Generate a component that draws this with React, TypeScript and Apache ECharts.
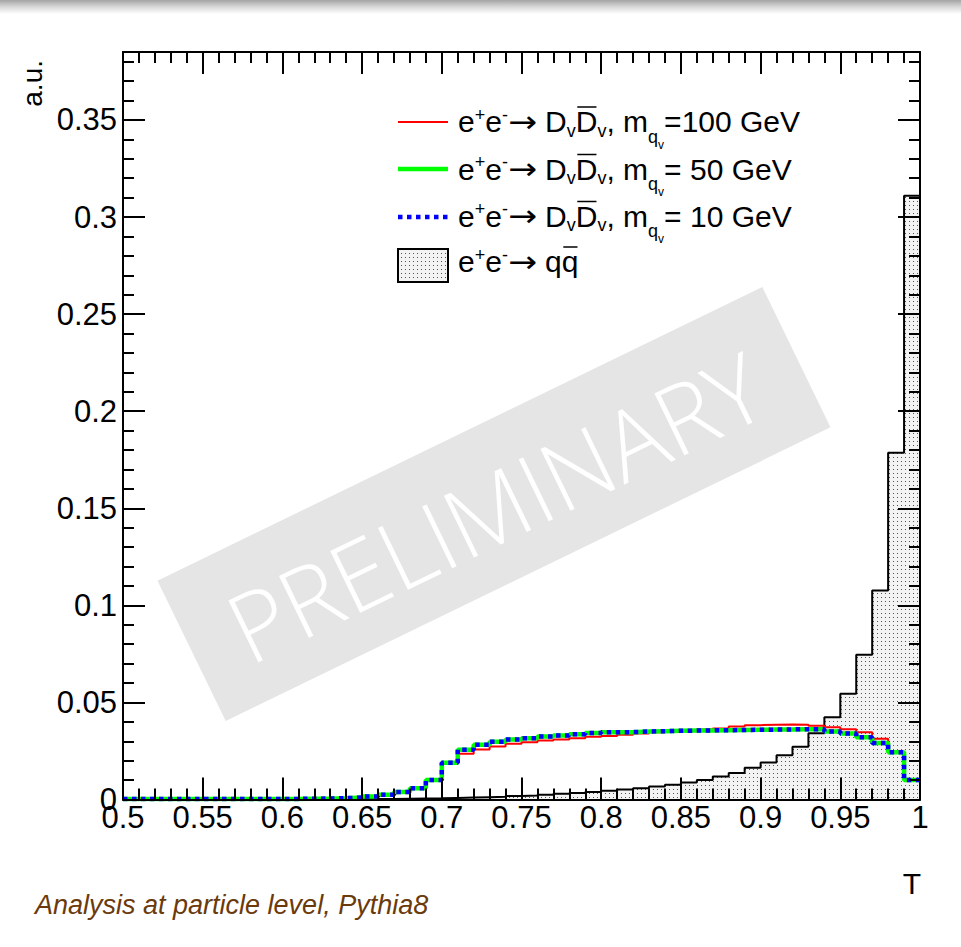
import React, { useEffect, useRef } from 'react';
import * as echarts from 'echarts';

// ---- data ----
const binEdges = [
  0.50, 0.51, 0.52, 0.53, 0.54, 0.55, 0.56, 0.57, 0.58, 0.59,
  0.60, 0.61, 0.62, 0.63, 0.64, 0.65, 0.66, 0.67, 0.68, 0.69,
  0.70, 0.71, 0.72, 0.73, 0.74, 0.75, 0.76, 0.77, 0.78, 0.79,
  0.80, 0.81, 0.82, 0.83, 0.84, 0.85, 0.86, 0.87, 0.88, 0.89,
  0.90, 0.91, 0.92, 0.93, 0.94, 0.95, 0.96, 0.97, 0.98, 0.99, 1.00,
];

const qqbar = [
  0.0000, 0.0000, 0.0000, 0.0000, 0.0000, 0.0000, 0.0000, 0.0000, 0.0000, 0.0000,
  0.0001, 0.0001, 0.0001, 0.0002, 0.0002, 0.0003, 0.0003, 0.0004, 0.0005, 0.0006,
  0.0008, 0.0010, 0.0012, 0.0014, 0.0018, 0.0021, 0.0025, 0.0030, 0.0034, 0.0039,
  0.0045, 0.0051, 0.0058, 0.0067, 0.0076, 0.0087, 0.0101, 0.0118, 0.0137, 0.0163,
  0.0190, 0.0228, 0.0272, 0.0341, 0.0424, 0.0545, 0.0746, 0.1077, 0.1786, 0.3110,
];

const dv100 = [
  0.0002, 0.0002, 0.0002, 0.0002, 0.0002, 0.0002, 0.0002, 0.0002, 0.0002, 0.0002,
  0.0003, 0.0004, 0.0005, 0.0007, 0.0010, 0.0015, 0.0025, 0.0039, 0.0058, 0.0100,
  0.0185, 0.0235, 0.0257, 0.0273, 0.0287, 0.0295, 0.0304, 0.0309, 0.0316, 0.0323,
  0.0327, 0.0333, 0.0340, 0.0346, 0.0351, 0.0355, 0.0360, 0.0366, 0.0376, 0.0383,
  0.0385, 0.0386, 0.0385, 0.0380, 0.0372, 0.0362, 0.0347, 0.0313, 0.0243, 0.0100,
];

const dv50 = [
  0.0002, 0.0002, 0.0002, 0.0002, 0.0002, 0.0002, 0.0002, 0.0002, 0.0002, 0.0002,
  0.0003, 0.0004, 0.0005, 0.0007, 0.0010, 0.0015, 0.0025, 0.0039, 0.0058, 0.0100,
  0.0189, 0.0256, 0.0282, 0.0298, 0.0309, 0.0316, 0.0324, 0.0329, 0.0336, 0.0342,
  0.0346, 0.0347, 0.0350, 0.0352, 0.0354, 0.0355, 0.0356, 0.0357, 0.0358, 0.0359,
  0.0360, 0.0361, 0.0362, 0.0362, 0.0350, 0.0340, 0.0320, 0.0291, 0.0243, 0.0100,
];

const dv10 = [
  0.0002, 0.0002, 0.0002, 0.0002, 0.0002, 0.0002, 0.0002, 0.0002, 0.0002, 0.0002,
  0.0003, 0.0004, 0.0005, 0.0007, 0.0010, 0.0015, 0.0025, 0.0039, 0.0058, 0.0100,
  0.0189, 0.0256, 0.0282, 0.0298, 0.0309, 0.0316, 0.0324, 0.0329, 0.0336, 0.0342,
  0.0346, 0.0347, 0.0350, 0.0352, 0.0354, 0.0355, 0.0356, 0.0357, 0.0358, 0.0359,
  0.0360, 0.0361, 0.0362, 0.0362, 0.0350, 0.0340, 0.0320, 0.0291, 0.0243, 0.0100,
];

const massLabels = ['=100 GeV', '= 50 GeV', '= 10 GeV'];
const xAxisTitle = 'T';
const yAxisTitle = 'a.u.';
const footnote = 'Analysis at particle level, Pythia8';
const watermark = 'PRELIMINARY';

// ---- helpers ----
const FONT = "'Liberation Sans', Arial, Helvetica, sans-serif";
const ARROWFONT = "'DejaVu Sans', 'Liberation Sans', sans-serif";

function toSteps(vals: number[]) {
  return binEdges.map((e, i) => [e, vals[Math.min(i, vals.length - 1)]]);
}

type Piece = { t: string; s: number; dy: number; bar?: boolean; fam?: string; sx?: number };

function buildText(ctx: CanvasRenderingContext2D, x0: number, base: number, pieces: Piece[], family: string) {
  const els: any[] = [];
  let x = x0;
  for (const p of pieces) {
    const font = `${p.s}px ${p.fam || family}`;
    ctx.font = font;
    const sx = p.sx || 1;
    const w = ctx.measureText(p.t).width * sx;
    els.push({
      type: 'text', x, y: base + p.dy - 0.3465 * p.s, z: 100, scaleX: sx,
      style: { text: p.t, font, fill: '#000', align: 'left', verticalAlign: 'middle' },
    });
    if (p.bar) {
      els.push({
        type: 'line', z: 100,
        shape: { x1: x + 1.5, y1: base - 25, x2: x + w - 1, y2: base - 25 },
        style: { stroke: '#000', lineWidth: 1.5 },
      });
    }
    x += w;
  }
  return els;
}

function makePattern() {
  const c = document.createElement('canvas');
  c.width = 4; c.height = 4;
  const g = c.getContext('2d')!;
  g.fillStyle = '#f3f3f3';
  g.fillRect(0, 0, 4, 4);
  g.fillStyle = '#555';
  g.fillRect(1, 1, 1, 1);
  return { image: c.toDataURL(), repeat: 'repeat', imageWidth: 4, imageHeight: 4 } as any;
}

export default function App() {
  const ref = useRef<HTMLDivElement>(null);
  useEffect(() => {
    if (!ref.current) return;
    const chart = echarts.init(ref.current, undefined, { renderer: 'svg' });
    const ctx = document.createElement('canvas').getContext('2d')!;
    const pattern = makePattern();

    const M = 30, S = 18, SS = 12;
    const head: Piece[] = [
      { t: 'e', s: M, dy: 0 }, { t: '+', s: S, dy: -11 },
      { t: 'e', s: M, dy: 0 }, { t: '-', s: S, dy: -11 },
      { t: '\u2192', s: M, dy: 0, fam: ARROWFONT, sx: 1.15 }, { t: ' ', s: M, dy: 0 },
    ];
    const rowBases = [132, 179.5, 226.5, 272];
    const textX = 458;
    const legendEls: any[] = [];
    massLabels.forEach((ml, i) => {
      const pieces: Piece[] = [
        ...head,
        { t: 'D', s: M, dy: 0 }, { t: 'v', s: S, dy: 5 },
        { t: 'D', s: M, dy: 0, bar: true }, { t: 'v', s: S, dy: 5 },
        { t: ', m', s: M, dy: 0 }, { t: 'q', s: S, dy: 11 }, { t: 'v', s: SS, dy: 17 },
        { t: ml, s: M, dy: 0 },
      ];
      legendEls.push(...buildText(ctx, textX, rowBases[i], pieces, FONT));
    });
    legendEls.push(...buildText(ctx, textX, rowBases[3], [...head, { t: 'q', s: M, dy: 0 }, { t: 'q', s: M, dy: 0, bar: true }], FONT));
    // legend samples
    legendEls.push(
      { type: 'line', z: 100, shape: { x1: 398, y1: 122, x2: 448, y2: 122 }, style: { stroke: '#ff0000', lineWidth: 2 } },
      { type: 'line', z: 100, shape: { x1: 398, y1: 169, x2: 448, y2: 169 }, style: { stroke: '#00ff00', lineWidth: 4.5 } },
      { type: 'line', z: 100, shape: { x1: 398, y1: 217, x2: 448, y2: 217 }, style: { stroke: '#0000ff', lineWidth: 4.5, lineDash: [4.5, 4.5] } },
      { type: 'rect', z: 100, shape: { x: 398, y: 249, width: 50, height: 33 }, style: { fill: pattern, stroke: '#000', lineWidth: 2 } },
    );

    const axisCommon = {
      type: 'value' as const,
      z: 10,
      splitLine: { show: false },
      minorSplitLine: { show: false },
    };
    const blk = { color: '#000', width: 2 };

    const option: any = {
      animation: false,
      backgroundColor: '#ffffff',
      grid: { left: 123, right: 41, top: 52, bottom: 147.5, containLabel: false },
      xAxis: [
        {
          ...axisCommon, min: 0.5, max: 1, interval: 0.05, position: 'bottom',
          axisLine: { onZero: false, lineStyle: blk },
          axisTick: { inside: true, length: 22, lineStyle: blk },
          minorTick: { show: true, splitNumber: 5, length: 11, lineStyle: blk },
          axisLabel: {
            margin: 2, fontSize: 31, fontFamily: FONT, color: '#000',
            formatter: (v: number) => String(+v.toFixed(2)),
          },
        },
        {
          ...axisCommon, min: 0.5, max: 1, interval: 0.05, position: 'top',
          axisLine: { onZero: false, lineStyle: blk },
          axisTick: { inside: true, length: 22, lineStyle: blk },
          minorTick: { show: true, splitNumber: 5, length: 11, lineStyle: blk },
          axisLabel: { show: false },
        },
      ],
      yAxis: [
        {
          ...axisCommon, min: 0, max: 0.385, interval: 0.05, position: 'left',
          axisLine: { onZero: false, lineStyle: blk },
          axisTick: { inside: true, length: 22, lineStyle: blk },
          axisLabel: {
            margin: 6, fontSize: 31, fontFamily: FONT, color: '#000', showMaxLabel: false,
            formatter: (v: number) => String(+v.toFixed(3)),
          },
        },
        {
          ...axisCommon, min: 0, max: 0.385, interval: 0.01, position: 'left',
          axisLine: { show: false, onZero: false },
          axisTick: { inside: true, length: 11, lineStyle: blk },
          axisLabel: { show: false },
        },
        {
          ...axisCommon, min: 0, max: 0.385, interval: 0.05, position: 'right',
          axisLine: { onZero: false, lineStyle: blk },
          axisTick: { inside: true, length: 22, lineStyle: blk },
          axisLabel: { show: false },
        },
        {
          ...axisCommon, min: 0, max: 0.385, interval: 0.01, position: 'right',
          axisLine: { show: false, onZero: false },
          axisTick: { inside: true, length: 11, lineStyle: blk },
          axisLabel: { show: false },
        },
      ],
      series: [
        {
          name: 'qq', type: 'line', step: 'end', symbol: 'none', data: toSteps(qqbar), z: 2,
          lineStyle: { color: '#000', width: 2 }, areaStyle: { color: pattern, opacity: 1 },
        },
        { name: 'm100', type: 'line', step: 'end', symbol: 'none', data: toSteps(dv100), z: 3, lineStyle: { color: '#ff0000', width: 2 } },
        { name: 'm50', type: 'line', step: 'end', symbol: 'none', data: toSteps(dv50), z: 4, lineStyle: { color: '#00ff00', width: 4.5 } },
        { name: 'm10', type: 'line', step: 'end', symbol: 'none', data: toSteps(dv10), z: 5, lineStyle: { color: '#0000ff', width: 4.5, type: [4.5, 4.5] } },
      ],
      graphic: [
        {
          type: 'rect', z: -1, shape: { x: 0, y: 0, width: 961, height: 14 },
          style: {
            fill: new echarts.graphic.LinearGradient(0, 0, 0, 1, [
              { offset: 0, color: '#a4a4a4' }, { offset: 0.45, color: '#d4d4d4' }, { offset: 1, color: '#ffffff' },
            ]),
          },
        },
        {
          type: 'group', x: 494, y: 504, rotation: 0.452, z: 0,
          children: [
            { type: 'rect', shape: { x: -336, y: -78, width: 672, height: 156 }, style: { fill: '#e5e5e5' } },
            { type: 'text', x: 0, y: 2, style: { text: watermark, font: "300 96px 'Open Sans', 'Liberation Sans', sans-serif", fill: '#ffffff', align: 'center', verticalAlign: 'middle' } },
          ],
        },
        ...legendEls,
        { type: 'text', x: 912, y: 883, z: 100, style: { text: xAxisTitle, font: `30px ${FONT}`, fill: '#000', align: 'center', verticalAlign: 'middle' } },
        { type: 'text', x: 32, y: 60, rotation: Math.PI / 2, z: 100, style: { text: yAxisTitle, font: `28px ${FONT}`, fill: '#000', align: 'right', verticalAlign: 'middle' } },
        { type: 'text', x: 35, y: 905, z: 100, style: { text: footnote, font: `italic 27px ${FONT}`, fill: '#6b3a0c', align: 'left', verticalAlign: 'middle' } },
      ],
    };
    chart.setOption(option);
    return () => chart.dispose();
  }, []);
  return <div ref={ref} style={{ position: 'fixed', left: 0, top: 0, width: 961, height: 947 }} />;
}
